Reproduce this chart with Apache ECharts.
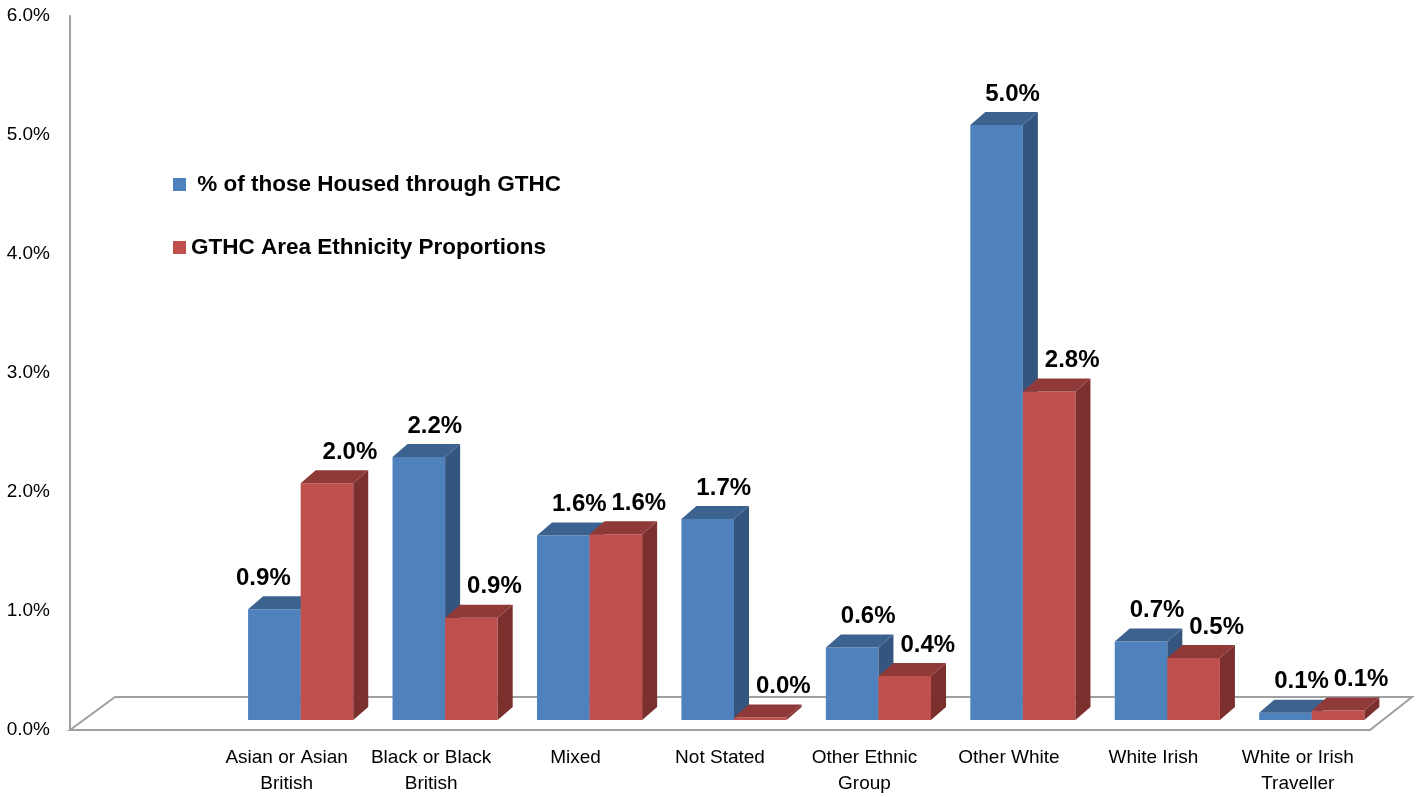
<!DOCTYPE html>
<html>
<head>
<meta charset="utf-8">
<script src="https://cdn.jsdelivr.net/npm/echarts@6/dist/echarts.min.js"></script>
<style>
html,body{margin:0;padding:0;background:#fff;}
#chart{width:1418px;height:797px;}
</style>
</head>
<body>
<div id="chart"></div>
<script>
// ---- data ----
var categories = ['', 'Asian or Asian\nBritish', 'Black or Black\nBritish', 'Mixed', 'Not Stated', 'Other Ethnic\nGroup', 'Other White', 'White Irish', 'White or Irish\nTraveller'];
var housedName = ' % of those Housed through GTHC';
var areaName = 'GTHC Area Ethnicity Proportions';
var housedValues = [0.93, 2.21, 1.55, 1.69, 0.61, 5.0, 0.66, 0.06];
var areaValues = [1.99, 0.86, 1.56, 0.02, 0.37, 2.76, 0.52, 0.08];
var yTicks = [0, 1, 2, 3, 4, 5, 6];

var FONT = '"Liberation Sans", Arial, sans-serif';
var chart = echarts.init(document.getElementById('chart'));

var SX = 14, SY = -10, DX = 15, DY = -13, BAR_FRAC = 0.364;

function toData(vals, other) {
  return vals.map(function (v, i) { return [i + 1, v, other[i]]; });
}

function geom(api, isFirst) {
  var idx = api.value(0), val = api.value(1);
  var base = api.coord([idx, 0]);
  var tp = api.coord([idx, val]);
  var bw = api.size([1, 0])[0] * BAR_FRAC;
  var x0 = base[0] + (isFirst ? -bw : 0) + SX;
  return { x0: x0, bw: bw, yb: base[1] + SY, yt: tp[1] + SY, val: val, otherTop: api.coord([idx, api.value(2)])[1] + SY };
}

function barRenderer(front, top, side, isFirst) {
  return function (params, api) {
    var g = geom(api, isFirst);
    var x0 = g.x0, bw = g.bw, yb = g.yb, yt = g.yt;
    var h = Math.max(yb - yt, 0);
    return {
      type: 'group',
      children: [
        { type: 'rect', shape: { x: x0, y: yt, width: bw, height: h }, style: { fill: front } },
        { type: 'polygon', shape: { points: [[x0 + bw, yt], [x0 + bw + DX, yt + DY], [x0 + bw + DX, yb + DY], [x0 + bw, yb]] }, style: { fill: side } },
        { type: 'polygon', shape: { points: [[x0, yt], [x0 + bw, yt], [x0 + bw + DX, yt + DY], [x0 + DX, yt + DY]] }, style: { fill: top } }
      ]
    };
  };
}

function labelRenderer(isFirst) {
  return function (params, api) {
    var g = geom(api, isFirst);
    var ly = g.yt + DY - 18;
    var lx = g.x0 + g.bw / 2 + (isFirst ? 16 : 23);
    // if the neighbouring (right) bar rises above this label, move label left
    if (isFirst && g.otherTop < ly + 12) lx = g.x0 + g.bw / 2 - 11;
    return { type: 'text', x: lx, y: ly,
      style: { text: g.val.toFixed(1) + '%', fill: '#000', font: 'bold 24px ' + FONT, align: 'center', verticalAlign: 'middle' } };
  };
}

var option = {
  backgroundColor: '#fff',
  animation: false,
  grid: { left: 70, right: 48, top: 16, bottom: 64, containLabel: false },
  legend: {
    orient: 'vertical', left: 173, top: 173, itemGap: 40, padding: 0,
    itemWidth: 13, itemHeight: 13, icon: 'rect',
    textStyle: { fontFamily: FONT, fontWeight: 'bold', fontSize: 22.5, color: '#000' },
    data: [housedName, areaName]
  },
  xAxis: {
    type: 'category', data: categories,
    axisLine: { show: false }, axisTick: { show: false },
    axisLabel: { interval: 0, color: '#000', fontFamily: FONT, fontSize: 19, lineHeight: 26, margin: 15 }
  },
  yAxis: {
    type: 'value', min: 0, max: 6, interval: 1,
    axisLine: { show: true, lineStyle: { color: '#A0A0A0', width: 2 } },
    axisTick: { show: false }, splitLine: { show: false },
    axisLabel: { color: '#000', fontFamily: FONT, fontSize: 19, margin: 20,
      formatter: function (v) { return v.toFixed(1) + '%'; } }
  },
  series: [
    {
      type: 'custom', name: 'floor', silent: true, legendHoverLink: false,
      data: [[0, 0]],
      renderItem: function (params, api) {
        var cs = params.coordSys;
        var x = cs.x, y = cs.y + cs.height, w = cs.width;
        return { type: 'polygon', shape: { points: [[x, y], [x + w, y], [x + w + 42, y - 33], [x + 45, y - 33]] },
          style: { fill: 'none', stroke: '#A0A0A0', lineWidth: 2 } };
      },
      z: 1
    },
    {
      type: 'custom', name: housedName, itemStyle: { color: '#4F81BD' },
      data: toData(housedValues, areaValues), encode: { x: 0, y: 1 },
      renderItem: barRenderer('#4F81BD', '#3C6390', '#34557D', true), z: 2
    },
    {
      type: 'custom', name: areaName, itemStyle: { color: '#C0504D' },
      data: toData(areaValues, housedValues), encode: { x: 0, y: 1 },
      renderItem: barRenderer('#C0504D', '#8F3A38', '#7C302E', false), z: 3
    },
    {
      type: 'custom', name: housedName, itemStyle: { color: '#4F81BD' },
      data: toData(housedValues, areaValues), encode: { x: 0, y: 1 },
      renderItem: labelRenderer(true), z: 10
    },
    {
      type: 'custom', name: areaName, itemStyle: { color: '#C0504D' },
      data: toData(areaValues, housedValues), encode: { x: 0, y: 1 },
      renderItem: labelRenderer(false), z: 10
    }
  ]
};
chart.setOption(option);
</script>
</body>
</html>
